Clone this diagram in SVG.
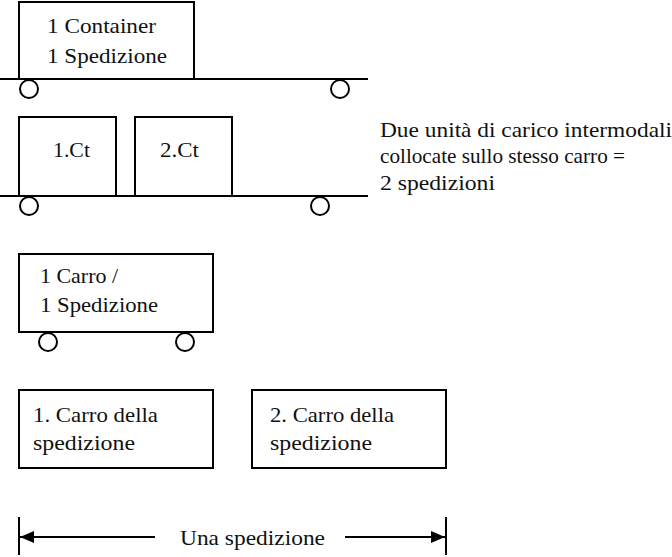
<svg xmlns="http://www.w3.org/2000/svg" width="672" height="557" viewBox="0 0 672 557">
<style>
.b{fill:none;stroke:#000;stroke-width:2}
.w{fill:#fff;stroke:#000;stroke-width:2}
.t{font-family:"Liberation Serif",serif;font-size:21px;fill:#111}
</style>
<defs>
<marker id="ah" viewBox="0 0 14 12" refX="14" refY="6" markerWidth="14" markerHeight="12" markerUnits="userSpaceOnUse" orient="auto-start-reverse">
<path d="M0,0 L14,6 L0,12 Z" fill="#000"/>
</marker>
</defs>
<rect width="672" height="557" fill="#fff"/>
<g id="wagon1">
<rect class="b" x="19" y="2" width="175" height="77"/>
<line class="b" x1="0" y1="79" x2="368" y2="79"/>
<circle class="w" cx="29" cy="89" r="9"/>
<circle class="w" cx="340" cy="89" r="9"/>
<text class="t" x="47" y="33" textLength="109" lengthAdjust="spacingAndGlyphs">1 Container</text>
<text class="t" x="47" y="63" textLength="120" lengthAdjust="spacingAndGlyphs">1 Spedizione</text>
</g>
<g id="wagon2">
<rect class="b" x="19" y="117" width="97" height="79"/>
<rect class="b" x="135" y="117" width="97" height="79"/>
<line class="b" x1="0" y1="196" x2="368" y2="196"/>
<circle class="w" cx="29" cy="206" r="9"/>
<circle class="w" cx="320" cy="206" r="9"/>
<text class="t" x="53" y="157" textLength="37" lengthAdjust="spacingAndGlyphs">1.Ct</text>
<text class="t" x="160" y="157" textLength="39" lengthAdjust="spacingAndGlyphs">2.Ct</text>
</g>
<g id="note">
<text class="t" x="380" y="137" textLength="292" lengthAdjust="spacingAndGlyphs">Due unità di carico intermodali</text>
<text class="t" x="380" y="163" textLength="245" lengthAdjust="spacingAndGlyphs">collocate sullo stesso carro =</text>
<text class="t" x="380" y="190" textLength="115" lengthAdjust="spacingAndGlyphs">2 spedizioni</text>
</g>
<g id="wagon3">
<rect class="b" x="19" y="254" width="194" height="78"/>
<circle class="w" cx="48" cy="342" r="9"/>
<circle class="w" cx="185" cy="342" r="9"/>
<text class="t" x="40" y="283" textLength="78" lengthAdjust="spacingAndGlyphs">1 Carro /</text>
<text class="t" x="40" y="312" textLength="118" lengthAdjust="spacingAndGlyphs">1 Spedizione</text>
</g>
<g id="carro1">
<rect class="b" x="19" y="390" width="194" height="78"/>
<text class="t" x="33" y="422" textLength="125" lengthAdjust="spacingAndGlyphs">1. Carro della</text>
<text class="t" x="33" y="450" textLength="102" lengthAdjust="spacingAndGlyphs">spedizione</text>
</g>
<g id="carro2">
<rect class="b" x="252" y="390" width="194" height="78"/>
<text class="t" x="270" y="422" textLength="124" lengthAdjust="spacingAndGlyphs">2. Carro della</text>
<text class="t" x="270" y="450" textLength="102" lengthAdjust="spacingAndGlyphs">spedizione</text>
</g>
<g id="connectors">
<line class="b" x1="19" y1="517" x2="19" y2="555"/>
<line class="b" x1="446" y1="517" x2="446" y2="555"/>
<line class="b" x1="155" y1="537" x2="20" y2="537" marker-end="url(#ah)"/>
<line class="b" x1="345" y1="537" x2="445" y2="537" marker-end="url(#ah)"/>
<text class="t" x="180" y="545" textLength="145" lengthAdjust="spacingAndGlyphs">Una spedizione</text>
</g>
</svg>
